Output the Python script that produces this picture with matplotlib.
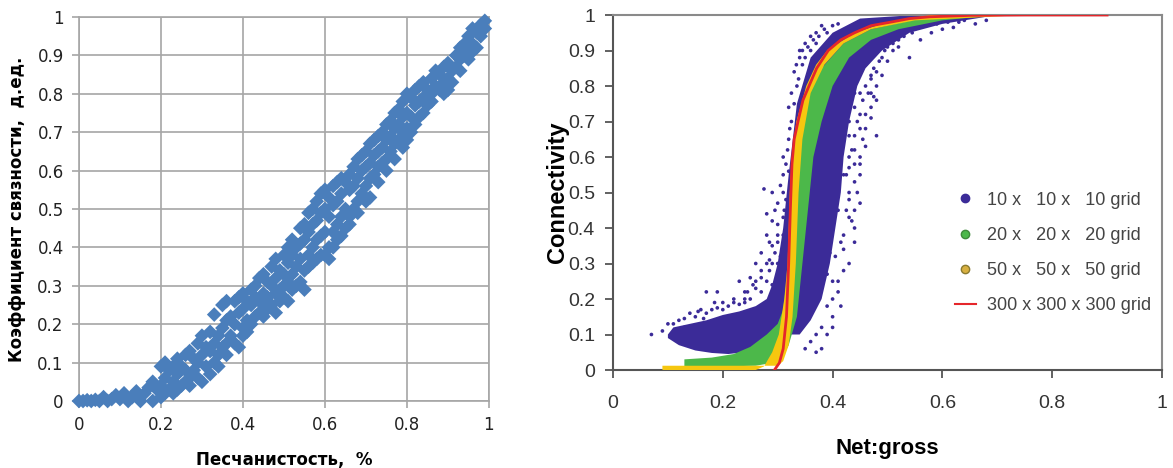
import matplotlib.pyplot as plt
from matplotlib.lines import Line2D

# ---- left chart: Песчанистость vs коэффициент связности ----
sand = [0, 0.01, 0.02, 0.03, 0.04, 0.05, 0.06, 0.07, 0.08, 0.09, 0.10, 0.11, 0.12, 0.13, 0.14, 0.15, 0.16, 0.17, 0.18, 0.18, 0.19,
        0.20, 0.20, 0.20, 0.21, 0.21, 0.21, 0.22, 0.22, 0.23, 0.23, 0.23, 0.24, 0.24, 0.24, 0.25, 0.25,
        0.26, 0.26, 0.26, 0.27, 0.27, 0.27, 0.28, 0.28, 0.29, 0.29, 0.29, 0.30, 0.30, 0.30, 0.31, 0.31,
        0.32, 0.32, 0.32, 0.33, 0.33, 0.33, 0.34, 0.34, 0.34, 0.35, 0.35, 0.35, 0.36, 0.36, 0.36, 0.36,
        0.37, 0.37, 0.38, 0.38, 0.38, 0.39, 0.39, 0.39, 0.40, 0.40, 0.40, 0.40, 0.41, 0.41, 0.41,
        0.42, 0.42, 0.42, 0.43, 0.43, 0.43, 0.44, 0.44, 0.44, 0.45, 0.45, 0.45, 0.45, 0.46, 0.46, 0.46,
        0.47, 0.47, 0.47, 0.48, 0.48, 0.48, 0.48, 0.49, 0.49, 0.49, 0.50, 0.50, 0.50, 0.50,
        0.51, 0.51, 0.51, 0.51, 0.52, 0.52, 0.52, 0.52, 0.53, 0.53, 0.53, 0.54, 0.54, 0.54, 0.54,
        0.55, 0.55, 0.55, 0.55, 0.56, 0.56, 0.56, 0.56, 0.57, 0.57, 0.57, 0.57, 0.58, 0.58, 0.58, 0.58,
        0.59, 0.59, 0.59, 0.59, 0.60, 0.60, 0.60, 0.60, 0.61, 0.61, 0.61, 0.61, 0.62, 0.62, 0.62, 0.62,
        0.63, 0.63, 0.63, 0.63, 0.64, 0.64, 0.64, 0.64, 0.65, 0.65, 0.65, 0.66, 0.66, 0.66, 0.66,
        0.67, 0.67, 0.67, 0.68, 0.68, 0.68, 0.68, 0.69, 0.69, 0.69, 0.70, 0.70, 0.70, 0.70,
        0.71, 0.71, 0.71, 0.71, 0.72, 0.72, 0.72, 0.73, 0.73, 0.73, 0.73, 0.74, 0.74, 0.74,
        0.75, 0.75, 0.75, 0.75, 0.76, 0.76, 0.76, 0.77, 0.77, 0.77, 0.77, 0.78, 0.78, 0.78,
        0.79, 0.79, 0.79, 0.79, 0.80, 0.80, 0.80, 0.80, 0.81, 0.81, 0.81, 0.82, 0.82, 0.82,
        0.83, 0.83, 0.83, 0.84, 0.84, 0.84, 0.85, 0.85, 0.86, 0.86, 0.86, 0.87, 0.87, 0.88, 0.88,
        0.89, 0.89, 0.89, 0.90, 0.90, 0.90, 0.91, 0.91, 0.92, 0.92, 0.93, 0.93, 0.93, 0.94, 0.94,
        0.95, 0.95, 0.95, 0.96, 0.96, 0.96, 0.97, 0.97, 0.98, 0.98, 0.99, 0.99]
conn = [0, 0, 0.002, 0, 0.003, 0, 0.01, 0, 0.005, 0.015, 0.005, 0.02, 0, 0.01, 0.025, 0, 0.02, 0.035, 0, 0.05, 0.03,
        0.09, 0.04, 0.01, 0.10, 0.06, 0.02, 0.08, 0.03, 0.09, 0.05, 0.02, 0.11, 0.07, 0.03, 0.09, 0.04,
        0.12, 0.08, 0.05, 0.13, 0.06, 0.04, 0.11, 0.08, 0.15, 0.10, 0.06, 0.17, 0.12, 0.05, 0.14, 0.09,
        0.18, 0.13, 0.07, 0.225, 0.15, 0.10, 0.17, 0.12, 0.09, 0.25, 0.19, 0.14, 0.26, 0.21, 0.15, 0.12,
        0.22, 0.17, 0.26, 0.20, 0.15, 0.27, 0.23, 0.14, 0.28, 0.24, 0.19, 0.17, 0.26, 0.21, 0.18,
        0.29, 0.25, 0.20, 0.30, 0.27, 0.22, 0.32, 0.26, 0.23, 0.33, 0.28, 0.25, 0.22, 0.31, 0.27, 0.24,
        0.35, 0.30, 0.25, 0.37, 0.32, 0.28, 0.23, 0.34, 0.29, 0.26, 0.38, 0.33, 0.30, 0.27,
        0.40, 0.36, 0.31, 0.26, 0.42, 0.38, 0.33, 0.29, 0.40, 0.35, 0.30, 0.45, 0.41, 0.37, 0.31,
        0.46, 0.42, 0.34, 0.29, 0.49, 0.44, 0.38, 0.35, 0.50, 0.46, 0.40, 0.36, 0.52, 0.47, 0.42, 0.37,
        0.54, 0.49, 0.43, 0.38, 0.55, 0.50, 0.44, 0.38, 0.53, 0.48, 0.40, 0.37, 0.56, 0.51, 0.44, 0.40,
        0.57, 0.52, 0.46, 0.42, 0.58, 0.54, 0.48, 0.43, 0.57, 0.50, 0.45, 0.59, 0.55, 0.48, 0.46,
        0.61, 0.56, 0.50, 0.63, 0.58, 0.52, 0.49, 0.64, 0.60, 0.54, 0.65, 0.61, 0.56, 0.52,
        0.67, 0.62, 0.58, 0.53, 0.68, 0.64, 0.59, 0.69, 0.65, 0.61, 0.57, 0.70, 0.66, 0.62,
        0.72, 0.68, 0.63, 0.60, 0.73, 0.69, 0.65, 0.75, 0.71, 0.67, 0.63, 0.76, 0.72, 0.68,
        0.78, 0.74, 0.70, 0.66, 0.80, 0.75, 0.71, 0.68, 0.79, 0.74, 0.70, 0.81, 0.77, 0.72,
        0.82, 0.78, 0.74, 0.83, 0.79, 0.75, 0.81, 0.77, 0.84, 0.80, 0.78, 0.86, 0.82, 0.85, 0.81,
        0.87, 0.83, 0.80, 0.88, 0.84, 0.81, 0.86, 0.83, 0.90, 0.87, 0.92, 0.89, 0.86, 0.93, 0.90,
        0.95, 0.92, 0.89, 0.97, 0.93, 0.91, 0.96, 0.92, 0.98, 0.95, 0.99, 0.97]

# ---- right chart: Net:gross vs Connectivity ----
# red line, 300 x 300 x 300 grid
red_ng = [0.294, 0.303, 0.310, 0.316, 0.320, 0.323, 0.326, 0.330, 0.337, 0.346, 0.357, 0.371, 0.392, 0.415, 0.44, 0.47, 0.506, 0.54, 0.577, 0.65, 0.75, 0.90]
red_c = [0.0, 0.02, 0.06, 0.15, 0.30, 0.45, 0.58, 0.65, 0.70, 0.76, 0.80, 0.85, 0.90, 0.93, 0.95, 0.97, 0.98, 0.99, 0.995, 0.999, 1.0, 1.0]

# dense cores of the scatter clouds, outlines
yel_ng = [0.09, 0.20, 0.26, 0.275, 0.29, 0.302, 0.312, 0.318, 0.322, 0.326, 0.334, 0.352, 0.37, 0.39, 0.44, 0.50, 0.58, 0.90,
          0.75, 0.62, 0.55, 0.47, 0.42, 0.385, 0.36, 0.345, 0.338, 0.333, 0.327, 0.32, 0.31, 0.30, 0.20, 0.09]
yel_c = [0.0, 0.0, 0.0, 0.01, 0.05, 0.10, 0.20, 0.30, 0.50, 0.60, 0.70, 0.80, 0.86, 0.90, 0.95, 0.98, 1.0, 1.0,
         1.0, 0.99, 0.985, 0.96, 0.92, 0.86, 0.78, 0.65, 0.50, 0.30, 0.15, 0.07, 0.025, 0.012, 0.012, 0.012]

grn_ng = [0.13, 0.20, 0.26, 0.29, 0.31, 0.32, 0.335, 0.345, 0.355, 0.365, 0.38, 0.40, 0.43, 0.47, 0.52, 0.60, 0.70,
          0.56, 0.47, 0.42, 0.38, 0.35, 0.335, 0.326, 0.32, 0.31, 0.30, 0.28, 0.25, 0.22, 0.18, 0.13]
grn_c = [0.01, 0.01, 0.012, 0.02, 0.04, 0.07, 0.15, 0.30, 0.45, 0.60, 0.70, 0.80, 0.88, 0.93, 0.96, 0.985, 1.0,
         0.99, 0.96, 0.92, 0.85, 0.76, 0.66, 0.50, 0.30, 0.17, 0.13, 0.10, 0.065, 0.045, 0.035, 0.03]

blu_ng = [0.10, 0.12, 0.15, 0.18, 0.21, 0.24, 0.27, 0.29, 0.31, 0.34, 0.36, 0.38, 0.395, 0.405, 0.415, 0.42, 0.43, 0.445, 0.46, 0.49, 0.54, 0.60, 0.66, 0.70,
          0.55, 0.45, 0.40, 0.36, 0.335, 0.32, 0.31, 0.30, 0.29, 0.28, 0.26, 0.23, 0.20, 0.17, 0.14, 0.11, 0.10]
blu_c = [0.09, 0.07, 0.055, 0.048, 0.045, 0.05, 0.065, 0.08, 0.10, 0.10, 0.14, 0.20, 0.30, 0.40, 0.50, 0.60, 0.70, 0.80, 0.85, 0.90, 0.95, 0.975, 0.99, 1.0,
         1.0, 0.99, 0.95, 0.88, 0.75, 0.55, 0.40, 0.30, 0.24, 0.20, 0.18, 0.165, 0.155, 0.14, 0.13, 0.12, 0.10]

# scattered 10x10x10 points outside the dense core
blu_dots_ng = [0.07, 0.17, 0.19, 0.10, 0.12, 0.14, 0.16, 0.18, 0.20, 0.22, 0.24, 0.25, 0.26, 0.27, 0.275, 0.28, 0.28, 0.29, 0.29,
               0.30, 0.30, 0.31, 0.31, 0.315, 0.32, 0.32, 0.325, 0.33, 0.335, 0.34, 0.345, 0.35, 0.36, 0.37, 0.38, 0.26, 0.23,
               0.29, 0.30, 0.31, 0.305, 0.27, 0.285, 0.48, 0.47, 0.44, 0.44, 0.43, 0.44, 0.43, 0.45, 0.46, 0.47, 0.48, 0.49,
               0.50, 0.51, 0.54, 0.56, 0.60, 0.63, 0.42, 0.41, 0.40, 0.38, 0.37, 0.36, 0.35, 0.42, 0.45, 0.43, 0.46, 0.45,
               0.44, 0.47, 0.52, 0.58, 0.62, 0.68, 0.66, 0.40, 0.39, 0.41, 0.42, 0.43, 0.44, 0.45,
               0.27, 0.28, 0.285, 0.29, 0.295, 0.30, 0.30, 0.305, 0.31, 0.31, 0.315, 0.312, 0.318, 0.32, 0.322, 0.325, 0.33,
               0.33, 0.334, 0.338, 0.34, 0.345, 0.35, 0.355, 0.36, 0.365, 0.37, 0.375, 0.385, 0.39, 0.40, 0.41, 0.285, 0.295,
               0.305, 0.29, 0.28, 0.27, 0.26, 0.25, 0.24, 0.245, 0.255,
               0.40, 0.41, 0.405, 0.415, 0.42, 0.425, 0.43, 0.425, 0.43, 0.435, 0.44, 0.44, 0.445, 0.45, 0.455, 0.46, 0.465,
               0.47, 0.475, 0.48, 0.485, 0.49, 0.495, 0.50, 0.51, 0.52, 0.53, 0.545, 0.55, 0.57, 0.59, 0.61, 0.64, 0.415,
               0.40, 0.39, 0.38, 0.37, 0.435, 0.445, 0.45, 0.455, 0.46, 0.47, 0.475, 0.48, 0.39, 0.395, 0.43, 0.44, 0.45,
               0.43, 0.44, 0.46, 0.48, 0.50,
               0.09, 0.11, 0.13, 0.15, 0.17, 0.19, 0.21, 0.23, 0.13, 0.155, 0.20, 0.22, 0.24, 0.185, 0.165]
blu_dots_c = [0.10, 0.22, 0.22, 0.13, 0.14, 0.16, 0.17, 0.17, 0.19, 0.20, 0.22, 0.26, 0.30, 0.33, 0.51, 0.38, 0.44, 0.42, 0.35,
              0.47, 0.30, 0.55, 0.60, 0.48, 0.74, 0.65, 0.70, 0.84, 0.80, 0.88, 0.90, 0.92, 0.94, 0.95, 0.97, 0.25, 0.25,
              0.50, 0.38, 0.43, 0.32, 0.28, 0.31, 0.66, 0.71, 0.36, 0.40, 0.43, 0.53, 0.60, 0.58, 0.72, 0.78, 0.80, 0.83,
              0.87, 0.90, 0.88, 0.93, 0.96, 0.98, 0.28, 0.22, 0.15, 0.12, 0.10, 0.08, 0.06, 0.34, 0.47, 0.50, 0.63, 0.68,
              0.62, 0.83, 0.93, 0.95, 0.965, 0.985, 0.975, 0.25, 0.18, 0.45, 0.55, 0.66, 0.74, 0.78,
              0.22, 0.25, 0.28, 0.24, 0.33, 0.36, 0.41, 0.28, 0.38, 0.50, 0.58, 0.45, 0.62, 0.56, 0.68, 0.78, 0.75,
              0.62, 0.86, 0.82, 0.90, 0.86, 0.88, 0.91, 0.90, 0.93, 0.92, 0.94, 0.96, 0.95, 0.97, 0.975, 0.36, 0.45,
              0.52, 0.30, 0.30, 0.26, 0.23, 0.20, 0.19, 0.22, 0.24,
              0.20, 0.25, 0.32, 0.36, 0.38, 0.45, 0.48, 0.55, 0.57, 0.62, 0.58, 0.66, 0.70, 0.72, 0.76, 0.80, 0.78,
              0.82, 0.85, 0.84, 0.87, 0.88, 0.90, 0.91, 0.92, 0.91, 0.94, 0.95, 0.96, 0.97, 0.975, 0.98, 0.985, 0.18,
              0.12, 0.10, 0.06, 0.05, 0.42, 0.50, 0.60, 0.65, 0.68, 0.74, 0.77, 0.76, 0.27, 0.33, 0.30, 0.45, 0.55,
              0.70, 0.78, 0.86, 0.90, 0.94,
              0.11, 0.13, 0.145, 0.15, 0.16, 0.175, 0.18, 0.185, 0.12, 0.165, 0.17, 0.19, 0.20, 0.19, 0.145]

legend_labels = ['10 x   10 x   10 grid', '20 x   20 x   20 grid', '50 x   50 x   50 grid', '300 x 300 x 300 grid']

fig = plt.figure(figsize=(11.73, 4.68), dpi=100)

# left chart
ax1 = fig.add_axes([0.0673, 0.1432, 0.3495, 0.8205])
ax1.scatter(sand, conn, marker='D', s=56, color='#4a7ebb', edgecolors='none', clip_on=False, zorder=3)
ax1.set_xlim(0, 1)
ax1.set_ylim(0, 1)
ax1.set_xticks([0, 0.2, 0.4, 0.6, 0.8, 1])
ax1.set_xticklabels(['0', '0.2', '0.4', '0.6', '0.8', '1'])
ax1.set_yticks([i / 10 for i in range(11)])
ax1.set_yticklabels(['0', '0.1', '0.2', '0.3', '0.4', '0.5', '0.6', '0.7', '0.8', '0.9', '1'])
ax1.grid(True, color='#a6a6a6', linewidth=1.2)
for s in ax1.spines.values():
    s.set_color('#a6a6a6')
    s.set_linewidth(1.2)
ax1.tick_params(length=5, width=1.2, color='#a6a6a6', labelsize=12, labelcolor='#222222', pad=6)
for lab in ax1.get_xticklabels() + ax1.get_yticklabels():
    lab.set_family('DejaVu Sans')
ax1.set_xlabel('Песчанистость,  %', family='Liberation Sans Narrow', fontweight='bold', fontsize=12, labelpad=12)
ax1.set_ylabel('Коэффициент связности,  д.ед.', family='Liberation Sans Narrow', fontweight='bold', fontsize=12, labelpad=8)

# right chart
ax2 = fig.add_axes([0.5226, 0.2094, 0.468, 0.7585])
ax2.fill(blu_ng, blu_c, color='#3b2b98', linewidth=0, zorder=2)
ax2.scatter(blu_dots_ng, blu_dots_c, s=7, color='#3b2b98', edgecolors='none', zorder=2)
ax2.fill(grn_ng, grn_c, color='#4cb84a', linewidth=0, zorder=3)
ax2.fill(yel_ng, yel_c, color='#f6c70f', linewidth=0, zorder=4)
ax2.plot(red_ng, red_c, color='#e5262b', linewidth=2, zorder=5)
ax2.set_xlim(0, 1)
ax2.set_ylim(0, 1)
ax2.set_xticks([0, 0.2, 0.4, 0.6, 0.8, 1])
ax2.set_xticklabels(['0', '0.2', '0.4', '0.6', '0.8', '1'])
ax2.set_yticks([i / 10 for i in range(11)])
ax2.set_yticklabels(['0', '0.1', '0.2', '0.3', '0.4', '0.5', '0.6', '0.7', '0.8', '0.9', '1'])
for s in ax2.spines.values():
    s.set_color('#8a8a8a')
    s.set_linewidth(1.5)
ax2.spines['left'].set_color('#555555')
ax2.spines['bottom'].set_color('#555555')
ax2.tick_params(length=6, width=1.3, color='#555555', labelsize=14, labelcolor='#333333', pad=7)
ax2.tick_params(axis='x', pad=12)
for lab in ax2.get_xticklabels() + ax2.get_yticklabels():
    lab.set_family('Liberation Sans')
ax2.set_xlabel('Net:gross', family='Liberation Sans', fontweight='bold', fontsize=16, labelpad=19)
ax2.set_ylabel('Connectivity', family='Liberation Sans', fontweight='bold', fontsize=17, labelpad=-1)

handles = [Line2D([], [], linestyle='none', marker='o', markersize=6, color='#3b2b98'),
           Line2D([], [], linestyle='none', marker='o', markersize=6, markerfacecolor='#4cb84a', markeredgecolor='#3f8a3a'),
           Line2D([], [], linestyle='none', marker='o', markersize=6, markerfacecolor='#d8b040', markeredgecolor='#8a7a30'),
           Line2D([], [], color='#e5262b', linewidth=1.5)]
leg = ax2.legend(handles, legend_labels, loc='center right', bbox_to_anchor=(1.01, 0.33), frameon=False,
                 prop={'family': 'Liberation Sans', 'size': 13}, labelspacing=1.0, handlelength=1.2, handletextpad=0.6)
for t in leg.get_texts():
    t.set_color('#444444')

fig.savefig('out.png', dpi=100)
